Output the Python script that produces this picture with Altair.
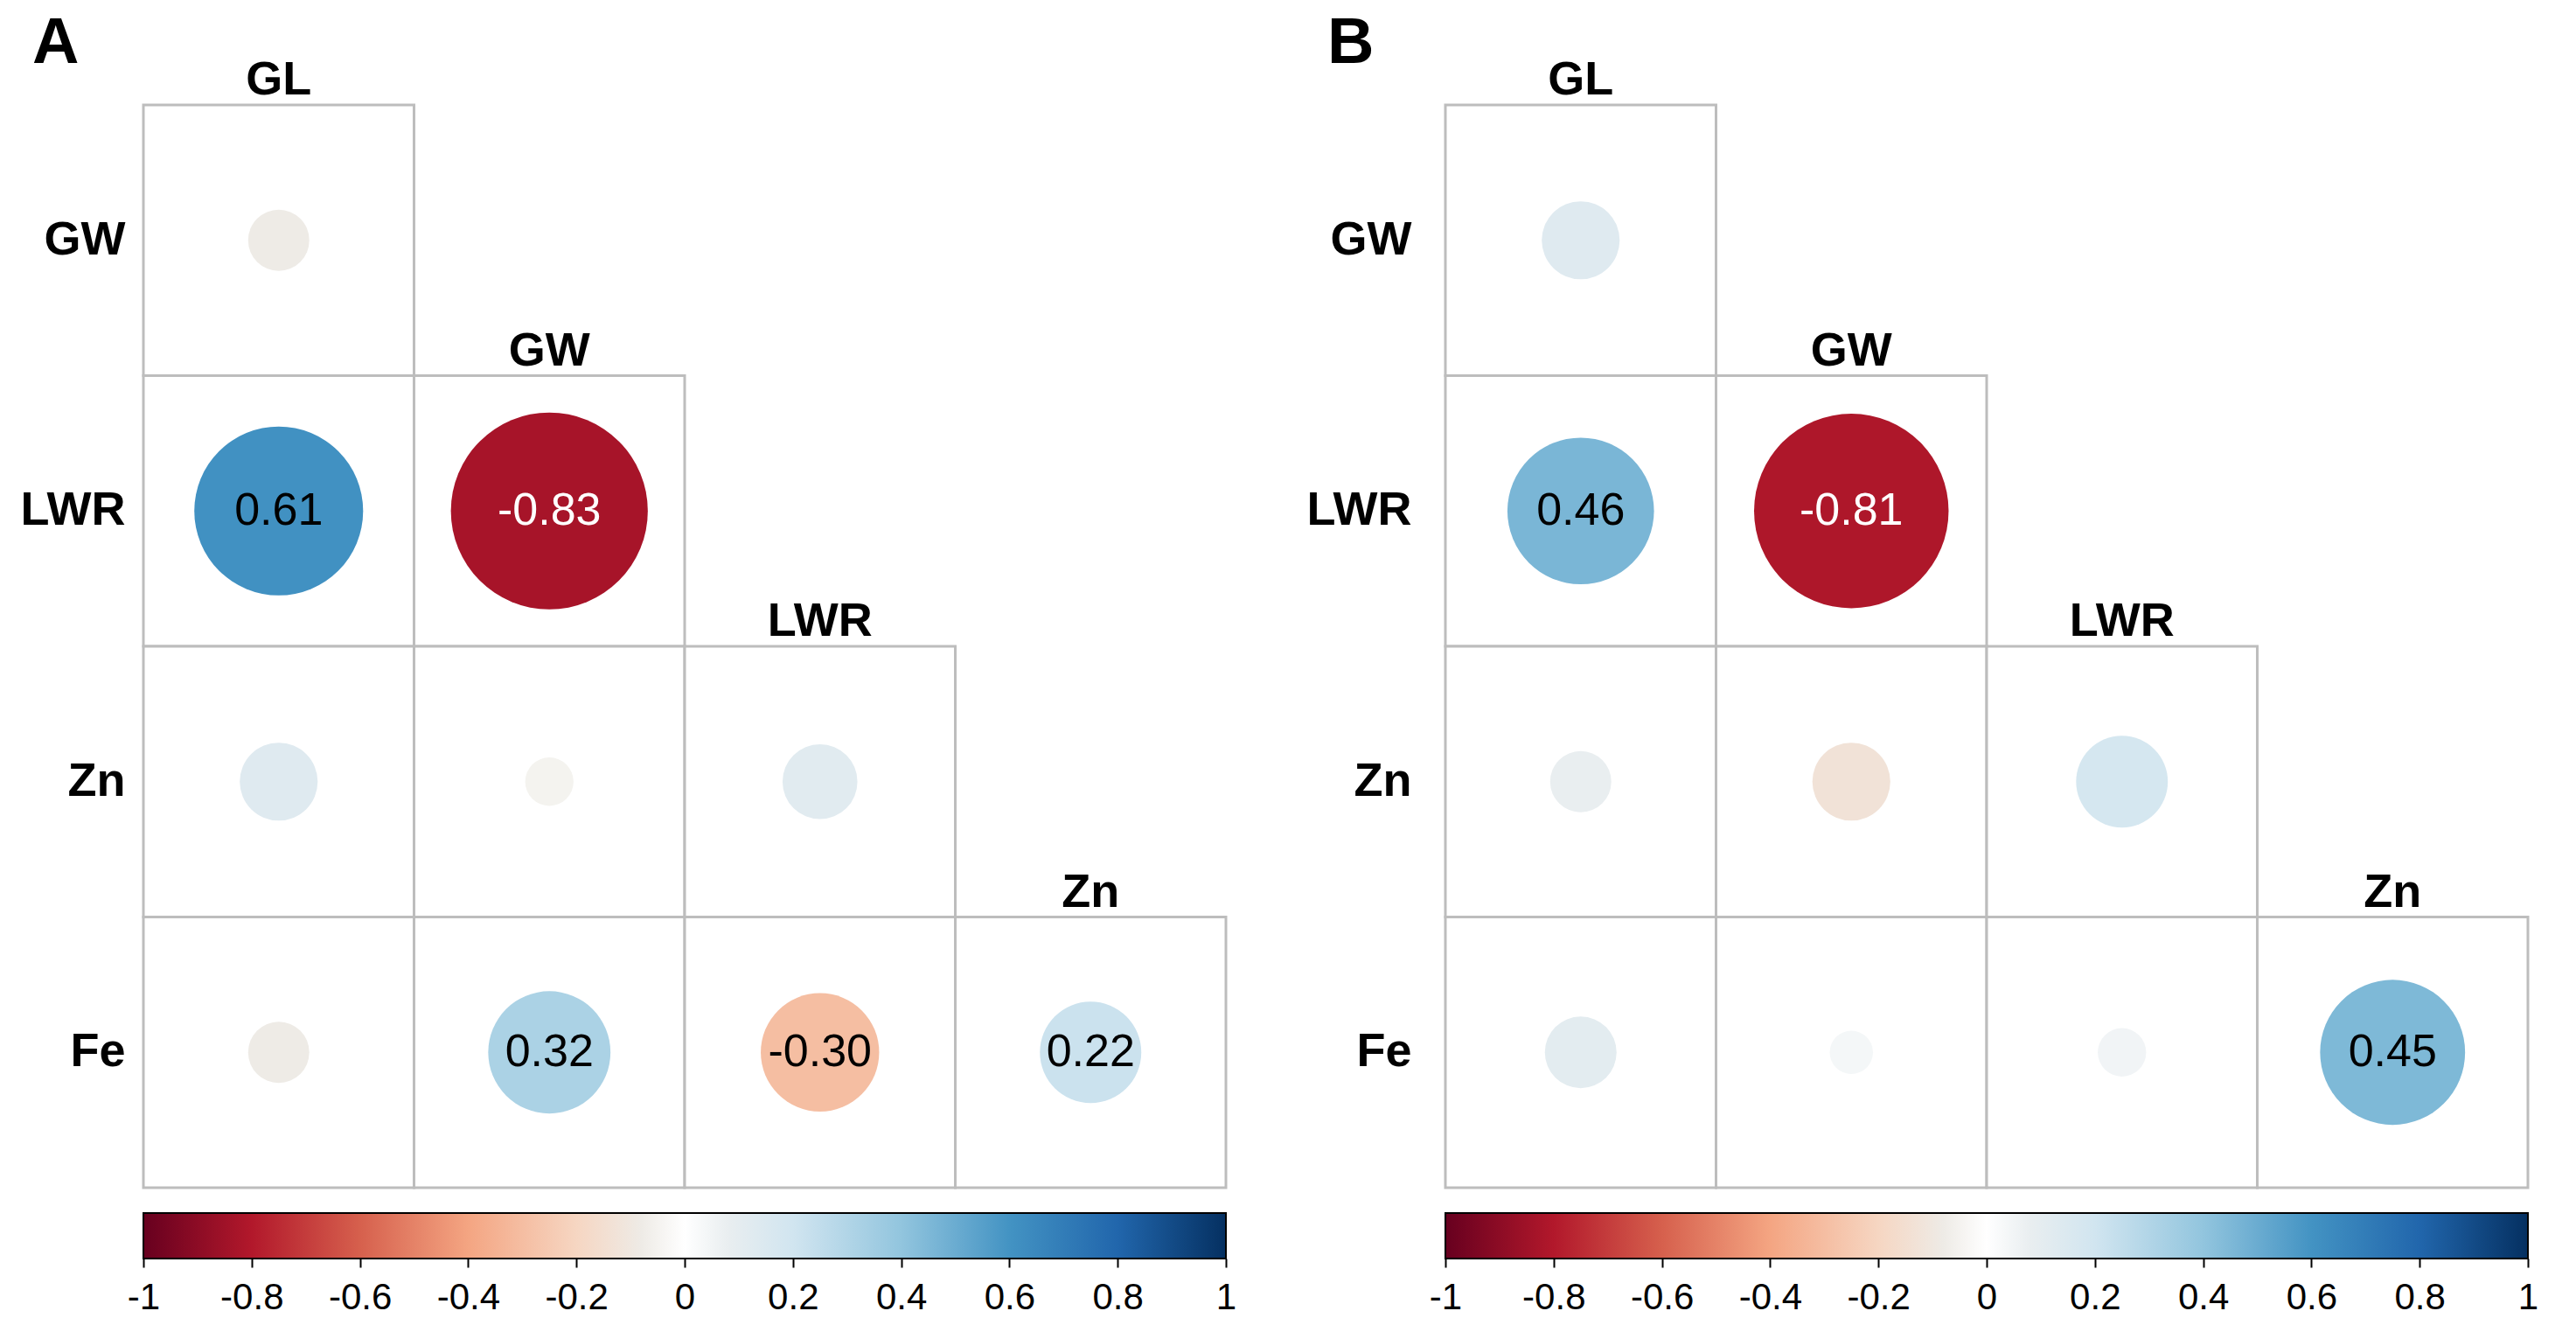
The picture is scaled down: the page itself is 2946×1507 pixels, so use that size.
import altair as alt
import pandas as pd

# ---- data ----
row_vars = ["GW", "LWR", "LWR", "Zn", "Zn", "Zn", "Fe", "Fe", "Fe", "Fe"]
col_vars = ["GL", "GL", "GW", "GL", "GW", "LWR", "GL", "GW", "LWR", "Zn"]
r_A = [-0.08, 0.61, -0.83, 0.13, -0.05, 0.12, -0.08, 0.32, -0.30, 0.22]
r_B = [0.13, 0.46, -0.81, 0.08, -0.13, 0.18, 0.11, 0.04, 0.05, 0.45]

row_order = ["GW", "LWR", "Zn", "Fe"]
col_order = ["GL", "GW", "LWR", "Zn"]

tick_values = [-1, -0.8, -0.6, -0.4, -0.2, 0, 0.2, 0.4, 0.6, 0.8, 1]
color_stops = [-1, -0.8, -0.6, -0.4, -0.2, -0.08, 0, 0.08, 0.2, 0.4, 0.6, 0.8, 1]
color_list = ["#67001F", "#B2182B", "#D6604D", "#F4A582", "#F6D6C2", "#EEEBE6", "#FFFFFF",
              "#E9EEF0", "#D1E5F0", "#92C5DE", "#4393C3", "#2166AC", "#053061"]

FONT = "Liberation Sans"
W = 1238
CELL = W / 4

color_scale = alt.Scale(domain=color_stops, range=color_list, interpolate="rgb")


def panel(r_vals, letter, label_pad, title_dx):
    df = pd.DataFrame({"row": row_vars, "col": col_vars, "r": r_vals})
    hdr = pd.DataFrame({"row": row_order, "col": col_order})
    x = alt.X("col:N", sort=col_order, scale=alt.Scale(domain=col_order, paddingInner=0, paddingOuter=0), axis=None)
    y = alt.Y("row:N", sort=row_order, scale=alt.Scale(domain=row_order, paddingInner=0, paddingOuter=0),
              axis=alt.Axis(title=None, ticks=False, domain=False, labelFont=FONT, labelFontSize=54,
                            labelFontWeight="bold", labelColor="black", labelPadding=label_pad))
    base = alt.Chart(df)
    cells = base.mark_rect(fill="white", stroke="#BDBDBD", strokeWidth=3).encode(x=x, y=y)
    dots = base.transform_calculate(a="abs(datum.r)").mark_circle(opacity=1).encode(
        x=x, y=y,
        size=alt.Size("a:Q", scale=alt.Scale(domain=[0, 1], range=[0, 61100]), legend=None),
        color=alt.Color("r:Q", scale=color_scale, legend=None),
    )
    labels = base.transform_filter("abs(datum.r) >= 0.2").transform_calculate(
        lab="(datum.r < 0 ? '-' : '') + format(abs(datum.r), '.2f')"
    ).mark_text(font=FONT, fontSize=52, baseline="middle", align="center").encode(
        x=x, y=y, text="lab:N",
        color=alt.condition("datum.r < -0.6", alt.value("white"), alt.value("black")),
    )
    headers = alt.Chart(hdr).mark_text(font=FONT, fontSize=54, fontWeight="bold", baseline="alphabetic",
                                       align="center", dy=-(CELL / 2 + 12), color="black").encode(
        x=x, y=y, text="col:N")
    grid = alt.layer(cells, dots, labels, headers).properties(
        width=W, height=W,
        title=alt.TitleParams(letter, anchor="start", frame="group", fontSize=74, fontWeight="bold",
                              font=FONT, color="black", dx=title_dx, offset=-81, baseline="alphabetic"),
    )

    cb_df = pd.DataFrame({"lo": [tick_values[0]], "hi": [tick_values[-1]]})
    grad = alt.LinearGradient(
        gradient="linear", x1=0, x2=1, y1=0, y2=0,
        stops=[alt.GradientStop(offset=(v + 1) / 2, color=c) for v, c in zip(color_stops, color_list)],
    )
    cbar = alt.Chart(cb_df).mark_rect(fill=grad, stroke="black", strokeWidth=2).encode(
        x=alt.X("lo:Q", scale=alt.Scale(domain=[-1, 1], nice=False, zero=False),
                axis=alt.Axis(title=None, values=tick_values, domain=False, grid=False, tickSize=10,
                              tickWidth=2, tickColor="black", labelFont=FONT, labelFontSize=42,
                              labelColor="black", labelPadding=14, labelFlush=False,
                              labelExpr="datum.value < 0 ? '-' + format(-datum.value, '~g') : format(datum.value, '~g')")),
        x2="hi:Q",
    ).properties(width=W, height=52)
    return alt.vconcat(grid, cbar, spacing=26)


chart = alt.hconcat(
    panel(r_A, "A", 21, -127),
    panel(r_B, "B", 39, -135),
    spacing=80,
).properties(
    padding={"left": 23, "top": 13, "right": 0, "bottom": 0},
    background="white",
).configure_view(stroke=None)

chart.save("out.html", embed_options={"renderer": "svg", "actions": False})
